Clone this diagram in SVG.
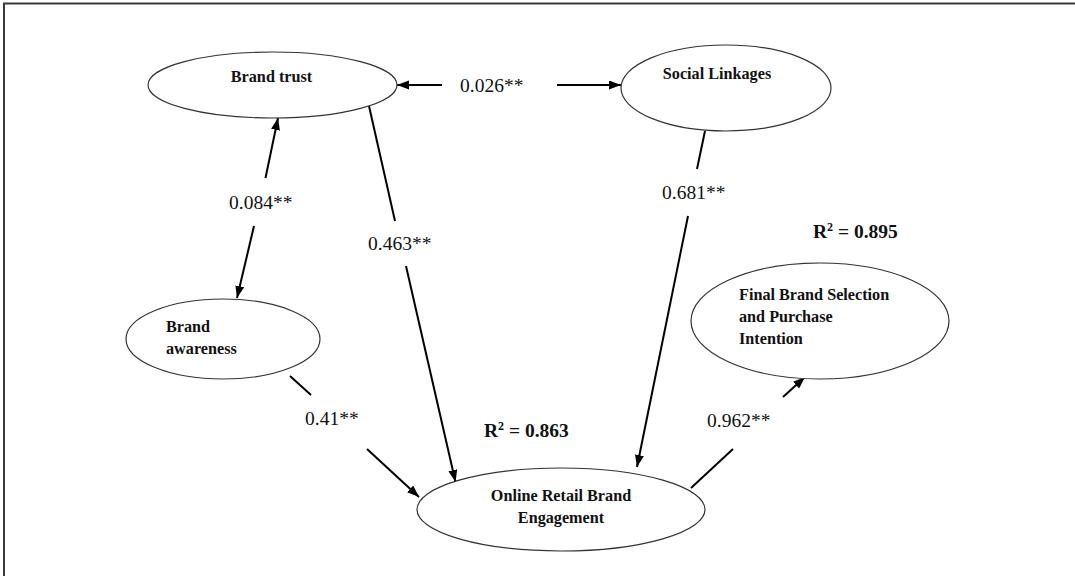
<svg xmlns="http://www.w3.org/2000/svg" width="1075" height="576" viewBox="0 0 1075 576">
  <style>
    .node ellipse { fill: #ffffff; stroke: #333333; stroke-width: 1.2; }
    .nlabel { font-family: "Liberation Serif", "Times New Roman", serif; font-weight: bold; font-size: 16.2px; fill: #111111; }
    .elabel { font-family: "Liberation Serif", "Times New Roman", serif; font-size: 19.5px; fill: #111111; }
    .r2 { font-family: "Liberation Serif", "Times New Roman", serif; font-weight: bold; font-size: 19.5px; fill: #111111; }
    .conn line { stroke: #000000; stroke-width: 2; fill: none; }
    .frame { stroke: #3a3a3a; stroke-width: 2; fill: none; }
  </style>
  <defs>
    <marker id="arrow" markerUnits="userSpaceOnUse" markerWidth="13" markerHeight="10" refX="12" refY="4.5" orient="auto">
      <path d="M0,0 L12,4.5 L0,9 Z" fill="#000000"/>
    </marker>
  </defs>

  <rect x="0" y="0" width="1075" height="576" fill="#ffffff"/>
  <path class="frame" d="M4,576 V3.5 H1075"/>

  <g id="connectors" class="conn">
    <!-- Brand trust <-> Social Linkages -->
    <line x1="442" y1="85" x2="397" y2="85" marker-end="url(#arrow)"/>
    <line x1="557" y1="85" x2="621" y2="85" marker-end="url(#arrow)"/>
    <!-- Brand trust <-> Brand awareness -->
    <line x1="265.5" y1="178" x2="278" y2="118" marker-end="url(#arrow)"/>
    <line x1="254" y1="226" x2="237" y2="298" marker-end="url(#arrow)"/>
    <!-- Brand trust -> ORBE -->
    <line x1="369" y1="106" x2="395" y2="221"/>
    <line x1="406" y1="266" x2="455.5" y2="482" marker-end="url(#arrow)"/>
    <!-- Social Linkages -> ORBE -->
    <line x1="705" y1="131" x2="697" y2="169"/>
    <line x1="688" y1="216" x2="637" y2="467" marker-end="url(#arrow)"/>
    <!-- Brand awareness -> ORBE -->
    <line x1="290" y1="376" x2="311" y2="395"/>
    <line x1="367" y1="449" x2="419" y2="497" marker-end="url(#arrow)"/>
    <!-- ORBE -> Final -->
    <line x1="691" y1="488" x2="733" y2="449"/>
    <line x1="783" y1="397" x2="805" y2="377" marker-end="url(#arrow)"/>
  </g>

  <g id="edge-labels">
    <text class="elabel" x="460" y="92">0.026**</text>
    <text class="elabel" x="229" y="209">0.084**</text>
    <text class="elabel" x="368" y="250">0.463**</text>
    <text class="elabel" x="662" y="199">0.681**</text>
    <text class="elabel" x="305" y="425">0.41**</text>
    <text class="elabel" x="707" y="427">0.962**</text>
    <text class="r2" x="484" y="437">R<tspan font-size="12" dy="-7">2</tspan><tspan dy="7"> = 0.863</tspan></text>
    <text class="r2" x="813" y="238">R<tspan font-size="12" dy="-7">2</tspan><tspan dy="7"> = 0.895</tspan></text>
  </g>

  <g id="brand-trust" class="node">
    <ellipse cx="272.5" cy="85" rx="124.5" ry="33"/>
    <text class="nlabel" x="271.5" y="82" text-anchor="middle">Brand trust</text>
  </g>

  <g id="social-linkages" class="node">
    <ellipse cx="726" cy="88" rx="105" ry="43"/>
    <text class="nlabel" x="717" y="79" text-anchor="middle">Social Linkages</text>
  </g>

  <g id="brand-awareness" class="node">
    <ellipse cx="223" cy="339" rx="97" ry="40"/>
    <text class="nlabel" x="166" y="332">Brand</text>
    <text class="nlabel" x="166" y="354">awareness</text>
  </g>

  <g id="online-retail-brand-engagement" class="node">
    <ellipse cx="561" cy="509.5" rx="144" ry="41.5"/>
    <text class="nlabel" x="561" y="501" text-anchor="middle">Online Retail Brand</text>
    <text class="nlabel" x="561" y="523" text-anchor="middle">Engagement</text>
  </g>

  <g id="final-brand-selection" class="node">
    <ellipse cx="820" cy="321" rx="129" ry="58"/>
    <text class="nlabel" x="739" y="300">Final Brand Selection</text>
    <text class="nlabel" x="739" y="322">and Purchase</text>
    <text class="nlabel" x="739" y="344">Intention</text>
  </g>
</svg>
